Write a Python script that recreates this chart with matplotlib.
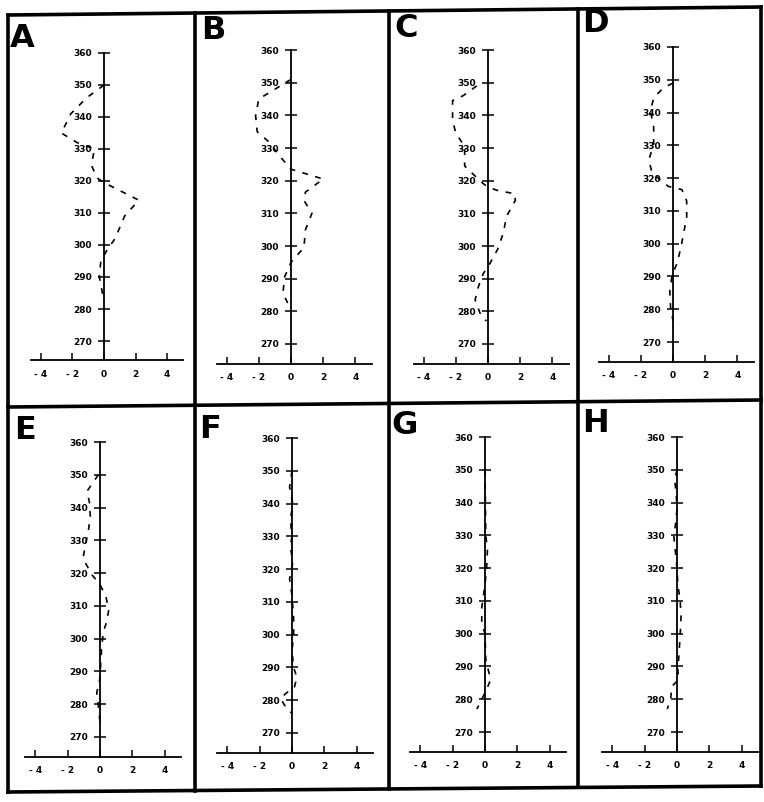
#!/usr/bin/env python3

# eight CD-style difference spectra, panels A-H, redrawn from a scanned figure
import matplotlib
matplotlib.use('Agg')
import numpy as np
import matplotlib.pyplot as plt

# panel letters
letters = ['A', 'B', 'C', 'D', 'E', 'F', 'G', 'H']

# wavelength (nm) and signal for each panel
wl_a = [350, 346, 341, 335, 332, 330, 325, 321, 319.5, 314, 309, 302, 298.5, 295, 290, 285, 283]
va_a = [0.0, -1.1, -2.1, -2.7, -1.7, -0.6, -0.8, -0.45, 0.0, 2.2, 1.3, 0.7, 0.2, -0.2, -0.3, -0.1, 0.0]

wl_b = [351, 345, 340, 335, 332, 327.5, 323.5, 320.5, 316.5, 314, 310, 305, 299.5, 295, 290.5, 285.5, 280.5]
va_b = [0.0, -2.0, -2.2, -2.1, -1.4, -0.7, 0.0, 2.0, 0.9, 0.8, 1.3, 0.9, 0.8, 0.0, -0.4, -0.5, 0.0]

wl_c = [349, 346, 344.5, 338.5, 334.5, 330.5, 324.5, 319.5, 318, 317, 316, 314, 309, 304, 299, 294.5, 291.5, 287.5, 283.5, 279.5, 277]
va_c = [-0.7, -1.55, -2.2, -2.2, -2.0, -1.45, -1.45, -0.4, 0.0, 0.6, 1.65, 1.7, 1.15, 0.95, 0.6, 0.1, -0.3, -0.6, -0.8, -0.5, -0.1]

wl_d = [349, 347.5, 344.5, 340.5, 335.5, 330.5, 325.5, 321.5, 317.5, 316.5, 313, 308, 303, 299, 294, 290.5, 285.5, 280.5, 276.5]
va_d = [0.0, -0.6, -1.2, -1.4, -1.2, -1.2, -1.5, -1.3, -0.3, 0.55, 0.85, 0.85, 0.65, 0.5, 0.25, -0.05, -0.2, -0.15, 0.0]

wl_e = [350, 345, 341.5, 337.5, 333.5, 328.5, 324.5, 319.5, 316.5, 313, 309, 305, 302, 297, 293, 288, 283.5, 279.5, 274.5]
va_e = [-0.1, -0.8, -0.65, -0.6, -0.7, -0.9, -1.05, -0.5, 0.0, 0.35, 0.55, 0.4, 0.2, 0.1, 0.05, 0.0, -0.2, -0.1, 0.0]

wl_f = [350, 345, 340, 335, 330, 327, 322, 317, 312, 305, 300, 295, 290, 287, 284, 282, 280.5, 278, 276]
va_f = [0.0, -0.15, 0.05, -0.1, 0.0, -0.1, 0.05, -0.15, 0.0, 0.1, 0.1, 0.0, 0.1, 0.3, 0.15, -0.4, -0.7, -0.4, 0.0]

wl_g = [350, 330, 325.5, 320, 315, 308, 303, 300, 292, 290, 286, 283, 280, 277]
va_g = [0.0, 0.05, 0.15, 0.1, 0.0, -0.2, -0.2, 0.0, 0.05, 0.15, 0.35, 0.1, -0.2, -0.5]

wl_h = [350, 347, 343, 338, 333, 330, 325, 320, 315, 310, 305, 300, 296, 292, 289, 286, 284, 280, 277]
va_h = [0.0, -0.15, -0.05, 0.0, -0.1, -0.2, -0.1, 0.0, 0.05, 0.2, 0.25, 0.2, 0.15, 0.1, 0.05, 0.1, -0.3, -0.4, -0.6]

wl_all = [wl_a, wl_b, wl_c, wl_d, wl_e, wl_f, wl_g, wl_h]
va_all = [va_a, va_b, va_c, va_d, va_e, va_f, va_g, va_h]

y_ticks = [270, 280, 290, 300, 310, 320, 330, 340, 350, 360]
x_ticks = [-4, -2, 0, 2, 4]

W, H = 764, 802
fig = plt.figure(figsize=(W / 100, H / 100), dpi=100)

# frame of thick black lines (pixel coords, y down), slightly skewed like the scan
bg = fig.add_axes([0, 0, 1, 1])
bg.set_xlim(0, W)
bg.set_ylim(H, 0)
bg.axis('off')
lw_frame = 2.6
fx = [8, 761]
top_y, mid_y, bot_y = [15, 7], [407, 400], [792, 786]
for yy in [top_y, mid_y, bot_y]:
    bg.plot(fx, yy, color='black', lw=lw_frame, solid_capstyle='projecting')
for x in [8, 195, 389, 578, 761]:
    bg.plot([x, x], [np.interp(x, fx, top_y), np.interp(x, fx, bot_y)],
            color='black', lw=lw_frame, solid_capstyle='projecting')

# axes placement in pixels: x of zero, y of 360, y of 270, px per unit on x
place = [
    (104, 53, 341, 15.8), (291, 50, 344, 16.1), (488, 50, 344, 16.1), (673, 47, 342, 16.1),
    (100, 442, 737, 16.2), (292, 438, 733, 16.2), (485, 437, 732, 16.2), (677, 437, 732, 16.2),
]
letter_pos = [(10, 47), (201, 39), (394, 37), (582, 32),
              (14, 439), (199, 438), (391, 434), (582, 432)]

xmin, xmax = -4.6, 5.0
ymin, ymax = 264, 360

for i in range(8):
    x0, y360, y270, ppu = place[i]
    ppy = (y270 - y360) / 90.0
    left = x0 + xmin * ppu
    width = (xmax - xmin) * ppu
    top = y360
    bottom = y270 + (270 - ymin) * ppy
    ax = fig.add_axes([left / W, 1 - bottom / H, width / W, (bottom - top) / H])
    ax.set_xlim(xmin, xmax)
    ax.set_ylim(ymin, ymax)
    ax.patch.set_alpha(0)
    for s in ['top', 'right']:
        ax.spines[s].set_visible(False)
    ax.spines['left'].set_position(('data', 0))
    ax.spines['left'].set_linewidth(1.3)
    ax.spines['bottom'].set_linewidth(1.3)
    ax.set_yticks(y_ticks)
    ax.set_xticks(x_ticks)
    ax.set_yticklabels([str(t) for t in y_ticks])
    ax.set_xticklabels([str(t).replace('-', '- ') for t in x_ticks])
    ax.tick_params(axis='y', direction='inout', length=9, width=1.1, pad=4,
                   labelsize=6.5)
    ax.tick_params(axis='x', direction='in', length=5, width=1.1, pad=7,
                   labelsize=6.5)
    for lab in ax.get_xticklabels() + ax.get_yticklabels():
        lab.set_fontweight('bold')
    ax.plot(va_all[i], wl_all[i], color='black', lw=1.2,
            linestyle=(0, (3.5, 4.5)), clip_on=False)
    lx, ly = letter_pos[i]
    fig.text(lx / W, 1 - ly / H, letters[i], fontsize=23, fontweight='bold',
             ha='left', va='baseline')

fig.savefig('out.png', dpi=100)
